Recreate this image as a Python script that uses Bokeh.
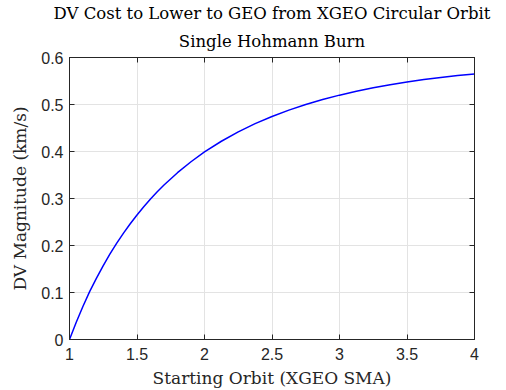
from bokeh.plotting import figure
from bokeh.models import Title, LinearAxis, Range1d, FixedTicker
from bokeh.embed import file_html
from bokeh.resources import INLINE

# Starting orbit (multiples of GEO SMA) and DV magnitude (km/s)
start_orbit = [1.0, 1.05, 1.1, 1.15, 1.2, 1.25, 1.3, 1.35, 1.4, 1.45, 1.5, 1.55, 1.6, 1.65,
               1.7, 1.8, 1.9, 2.0, 2.125, 2.25, 2.375, 2.5, 2.625, 2.75, 2.875, 3.0,
               3.125, 3.25, 3.375, 3.5, 3.625, 3.75, 3.875, 4.0]
dv_kms = [0.0, 0.0368, 0.0707, 0.1025, 0.1306, 0.1573, 0.1820, 0.2050, 0.2264, 0.2464,
          0.2650, 0.2825, 0.2988, 0.3142, 0.3286, 0.3549, 0.3782, 0.3990, 0.4218, 0.4418,
          0.4593, 0.4746, 0.4881, 0.5001, 0.5106, 0.5199, 0.5282, 0.5355, 0.5421, 0.5478,
          0.5530, 0.5575, 0.5615, 0.5650]
x_ticks = [1, 1.5, 2, 2.5, 3, 3.5, 4]
x_tick_labels = {1: "1", 1.5: "1.5", 2: "2", 2.5: "2.5", 3: "3", 3.5: "3.5", 4: "4"}
y_ticks = [0, 0.1, 0.2, 0.3, 0.4, 0.5, 0.6]
y_tick_labels = {0: "0", 0.1: "0.1", 0.2: "0.2", 0.3: "0.3", 0.4: "0.4", 0.5: "0.5", 0.6: "0.6"}
title_text = "DV Cost to Lower to GEO from XGEO Circular Orbit"
subtitle_text = "Single Hohmann Burn"

AX = "#262626"
SERIF = "DejaVu Serif"
SANS = "Liberation Sans"

p = figure(width=500, height=390, output_backend="svg", toolbar_location=None,
           x_range=Range1d(1, 4), y_range=Range1d(0, 0.6),
           min_border_left=69, min_border_right=26, min_border_top=57, min_border_bottom=50)
p.background_fill_color = "white"
p.border_fill_color = "white"
p.outline_line_color = AX
p.outline_line_width = 1

p.line(start_orbit, dv_kms, line_color="#0000ff", line_width=1.5)

for ax in (p.xaxis[0], p.yaxis[0]):
    ax.axis_line_color = AX
    ax.major_tick_line_color = AX
    ax.major_tick_in = 5
    ax.major_tick_out = 0
    ax.minor_tick_line_color = None
    ax.major_label_text_font = SANS
    ax.major_label_text_font_size = "16px"
    ax.major_label_text_color = AX
    ax.axis_label_text_font = SERIF
    ax.axis_label_text_font_style = "normal"
    ax.axis_label_text_font_size = "17px"
    ax.axis_label_text_color = AX

p.xaxis[0].ticker = FixedTicker(ticks=x_ticks)
p.xaxis[0].major_label_overrides = x_tick_labels
p.yaxis[0].ticker = FixedTicker(ticks=y_ticks)
p.yaxis[0].major_label_overrides = y_tick_labels
p.xaxis[0].axis_label = "Starting Orbit (XGEO SMA)"
p.yaxis[0].axis_label = "DV Magnitude (km/s)"
p.xaxis[0].major_label_standoff = 8
p.xaxis[0].axis_label_standoff = 5
p.yaxis[0].major_label_standoff = 6
p.yaxis[0].axis_label_standoff = 8

# box ticks on top and right (no labels drawn)
top_ax = LinearAxis(ticker=FixedTicker(ticks=x_ticks), major_label_text_font_size="0px",
                    major_label_text_color=None,
                    major_tick_in=5, major_tick_out=0, minor_tick_line_color=None,
                    axis_line_color=AX, major_tick_line_color=AX, major_label_standoff=0)
right_ax = LinearAxis(ticker=FixedTicker(ticks=y_ticks), major_label_text_font_size="0px",
                      major_label_text_color=None,
                      major_tick_in=5, major_tick_out=0, minor_tick_line_color=None,
                      axis_line_color=AX, major_tick_line_color=AX, major_label_standoff=0)
p.add_layout(top_ax, "above")
p.add_layout(right_ax, "right")

p.grid.grid_line_color = "#e3e3e3"
p.grid.grid_line_width = 1
p.xgrid.ticker = FixedTicker(ticks=x_ticks)
p.ygrid.ticker = FixedTicker(ticks=y_ticks)

p.add_layout(Title(text=subtitle_text, align="center", text_font=SERIF,
                   text_font_style="normal", text_font_size="16.5px", text_color="black",
                   standoff=14), "above")
p.add_layout(Title(text=title_text, align="center", text_font=SERIF,
                   text_font_style="normal", text_font_size="16.5px", text_color="black",
                   standoff=0), "above")

open("out.html", "w").write(file_html(p, INLINE))
